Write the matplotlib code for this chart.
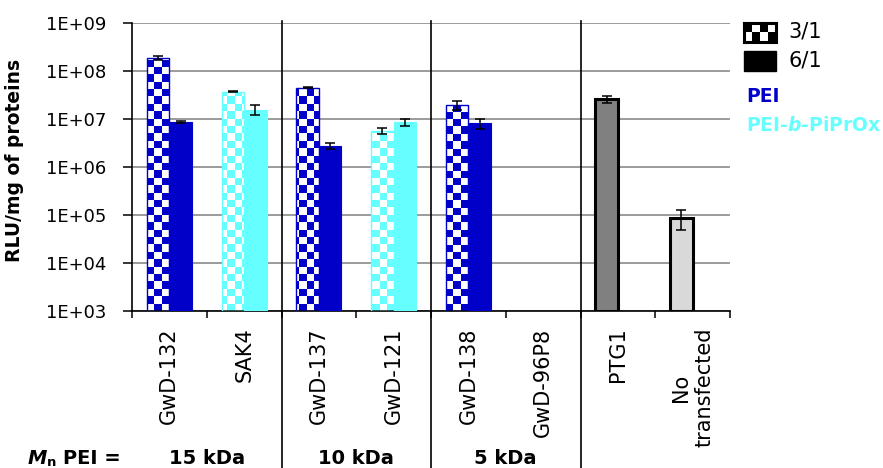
import numpy as np
import matplotlib
matplotlib.use("Agg")
import matplotlib.pyplot as plt
from matplotlib.colors import ListedColormap
from matplotlib.patches import Rectangle
import matplotlib.transforms as mtransforms
from matplotlib.ticker import FixedLocator, FuncFormatter, NullFormatter

plt.rcParams['font.family'] = ['DejaVu Sans']

# ---------------- data ----------------
categories = ["GwD-132", "SAK4", "GwD-137", "GwD-121", "GwD-138", "GwD-96P8",
              "PTG1", "No\ntransfected"]
polymer = ["PEI", "PEI-b-PiPrOx", "PEI", "PEI-b-PiPrOx", "PEI", "PEI",
           "PTG1", "none"]
val_31 = [1.92e8, 3.76e7, 4.55e7, 5.8e6, 1.96e7, np.nan, 2.6e7, 8.7e4]
err_31 = [1.9e7, 1.0e6, 1.5e6, 8.5e5, 3.8e6, np.nan, 4.3e6, 3.9e4]
val_61 = [8.8e6, 1.58e7, 2.78e6, 8.65e6, 8.26e6, np.nan, np.nan, np.nan]
err_61 = [3.0e5, 3.7e6, 4.0e5, 1.3e6, 2.0e6, np.nan, np.nan, np.nan]
mn_groups = ["15 kDa", "10 kDa", "5 kDa"]
group_sizes = [2, 2, 2]
ytick_vals = [1e3, 1e4, 1e5, 1e6, 1e7, 1e8, 1e9]
legend_ratios = ["3/1", "6/1"]

# ---------------- style ----------------
colors = {"PEI": "#0000C8", "PEI-b-PiPrOx": "#66FFFF",
          "PTG1": "#808080", "none": "#D9D9D9"}
ymin, ymax = 1e3, 1e9
bw = 0.3
W, H = 883, 468

fig = plt.figure(figsize=(W / 100, H / 100), dpi=100)
ax_l, ax_b, ax_w, ax_h = 132, 157, 598, 287.7
ax = fig.add_axes([ax_l / W, ax_b / H, ax_w / W, ax_h / H])
ax.set_yscale('log')
ax.set_xlim(0, len(categories))
ax.set_ylim(ymin, ymax)
ax.set_autoscale_on(False)

# checkerboard texture (axes coords)
chk = 7.3
nx, ny = int(round(ax_w / chk)), int(round(ax_h / chk))
board = np.add.outer(np.arange(ny), np.arange(nx)) % 2

x = np.arange(len(categories)) + 0.5
for i, cat in enumerate(categories):
    kind = polymer[i]
    c = colors[kind]
    if kind in ("PEI", "PEI-b-PiPrOx"):
        if not np.isnan(val_31[i]):
            b = ax.bar(x[i] - bw / 2, val_31[i] - ymin, width=bw, bottom=ymin,
                       facecolor='none', edgecolor=c, linewidth=1.0, zorder=3)
            im = ax.imshow(board, cmap=ListedColormap(['white', c]),
                           extent=[0, 1, 0, 1], transform=ax.transAxes,
                           aspect='auto', interpolation='nearest', zorder=2.5)
            im.set_clip_path(b[0])
            ax.errorbar(x[i] - bw / 2, val_31[i], yerr=err_31[i], fmt='none',
                        ecolor='black', elinewidth=1.1, capsize=3.5,
                        capthick=1.1, zorder=5)
        if not np.isnan(val_61[i]):
            ax.bar(x[i] + bw / 2, val_61[i] - ymin, width=bw, bottom=ymin,
                   facecolor=c, edgecolor=c, linewidth=0.8, zorder=3)
            ax.errorbar(x[i] + bw / 2, val_61[i], yerr=err_61[i], fmt='none',
                        ecolor='black', elinewidth=1.1, capsize=3.5,
                        capthick=1.1, zorder=5)
    else:
        ax.bar(x[i] - bw / 2, val_31[i] - ymin, width=bw, bottom=ymin,
               facecolor=c, edgecolor='black', linewidth=2.2, zorder=3)
        ax.errorbar(x[i] - bw / 2, val_31[i], yerr=err_31[i], fmt='none',
                    ecolor='black', elinewidth=1.1, capsize=3.5,
                    capthick=1.1, zorder=5)

ax.set_ylim(ymin, ymax)
ax.set_xlim(0, len(categories))

# grid & spines
ax.yaxis.set_major_locator(FixedLocator(ytick_vals))
ax.yaxis.set_minor_locator(FixedLocator([]))
ax.yaxis.set_major_formatter(FuncFormatter(lambda v, p: "1E+%02d" % int(round(np.log10(v)))))
ax.grid(axis='y', color='#8A8A8A', linewidth=1.2, zorder=0)
ax.set_axisbelow(True)
for s in ['top', 'right']:
    ax.spines[s].set_visible(False)
ax.spines['left'].set_linewidth(1.2)
ax.spines['bottom'].set_linewidth(1.2)
ax.tick_params(axis='y', which='major', direction='out', length=6.5,
               width=1.1, pad=12, labelsize=13)

ax.xaxis.set_major_locator(FixedLocator(np.arange(len(categories) + 1)))
ax.xaxis.set_major_formatter(NullFormatter())
ax.xaxis.set_minor_locator(FixedLocator(x))
ax.set_xticklabels(categories, minor=True, rotation=90, va='top', ha='center',
                   multialignment='center')
ax.tick_params(axis='x', which='major', direction='out', length=5, width=1.1)
ax.tick_params(axis='x', which='minor', length=0, pad=12, labelsize=15)

ax.set_ylabel("RLU/mg of proteins", fontsize=13.5, fontweight='bold')
ax.yaxis.set_label_coords((24 - ax_l) / ax_w, 0.525)

# group separators
bounds = np.cumsum(group_sizes)
for bnd in bounds:
    ax.plot([bnd, bnd], [-0.7, 1.009], transform=ax.get_xaxis_transform(),
            color='black', linewidth=1.2, clip_on=False, zorder=6)

# group labels
tr = mtransforms.blended_transform_factory(ax.transData, fig.transFigure)
starts = np.concatenate([[0], bounds[:-1]])
for lab, st, sz in zip(mn_groups, starts, group_sizes):
    ax.text(st + sz / 2, 4.5 / H, lab, transform=tr, ha='center',
            va='baseline', fontsize=14, fontweight='bold')

fig.text(28 / W, 4.5 / H, "M", fontsize=14, fontweight='bold',
         style='italic', va='baseline', ha='left')
fig.text(47 / W, 1.5 / H, "n", fontsize=9.5, fontweight='bold',
         va='baseline', ha='left')
fig.text(63 / W, 4.5 / H, "PEI =", fontsize=14, fontweight='bold',
         va='baseline', ha='left')

# legend
lax = fig.add_axes([744 / W, 1 - 42 / H, 32 / W, 19 / H])
lb = np.add.outer(np.arange(2), np.arange(4)) % 2
lax.imshow(lb, cmap=ListedColormap(['black', 'white']), aspect='auto',
           interpolation='nearest')
lax.set_xticks([]); lax.set_yticks([])
for s in lax.spines.values():
    s.set_linewidth(2.2)
fig.add_artist(Rectangle((744 / W, 1 - 71 / H), 32 / W, 20 / H,
                         transform=fig.transFigure, facecolor='black',
                         edgecolor='black'))
fig.text(788 / W, 1 - 31.5 / H, legend_ratios[0], fontsize=15, va='center', ha='left')
fig.text(788 / W, 1 - 61 / H, legend_ratios[1], fontsize=15, va='center', ha='left')
fig.text(746 / W, 1 - 102 / H, "PEI", fontsize=13.5, fontweight='bold',
         color=colors["PEI"], va='baseline', ha='left')
fig.text(746 / W, 1 - 131 / H, r"PEI-$\boldsymbol{b}$-PiPrOx", fontsize=13.5,
         fontweight='bold', color=colors["PEI-b-PiPrOx"], va='baseline', ha='left')

fig.savefig("out.png", dpi=100)
